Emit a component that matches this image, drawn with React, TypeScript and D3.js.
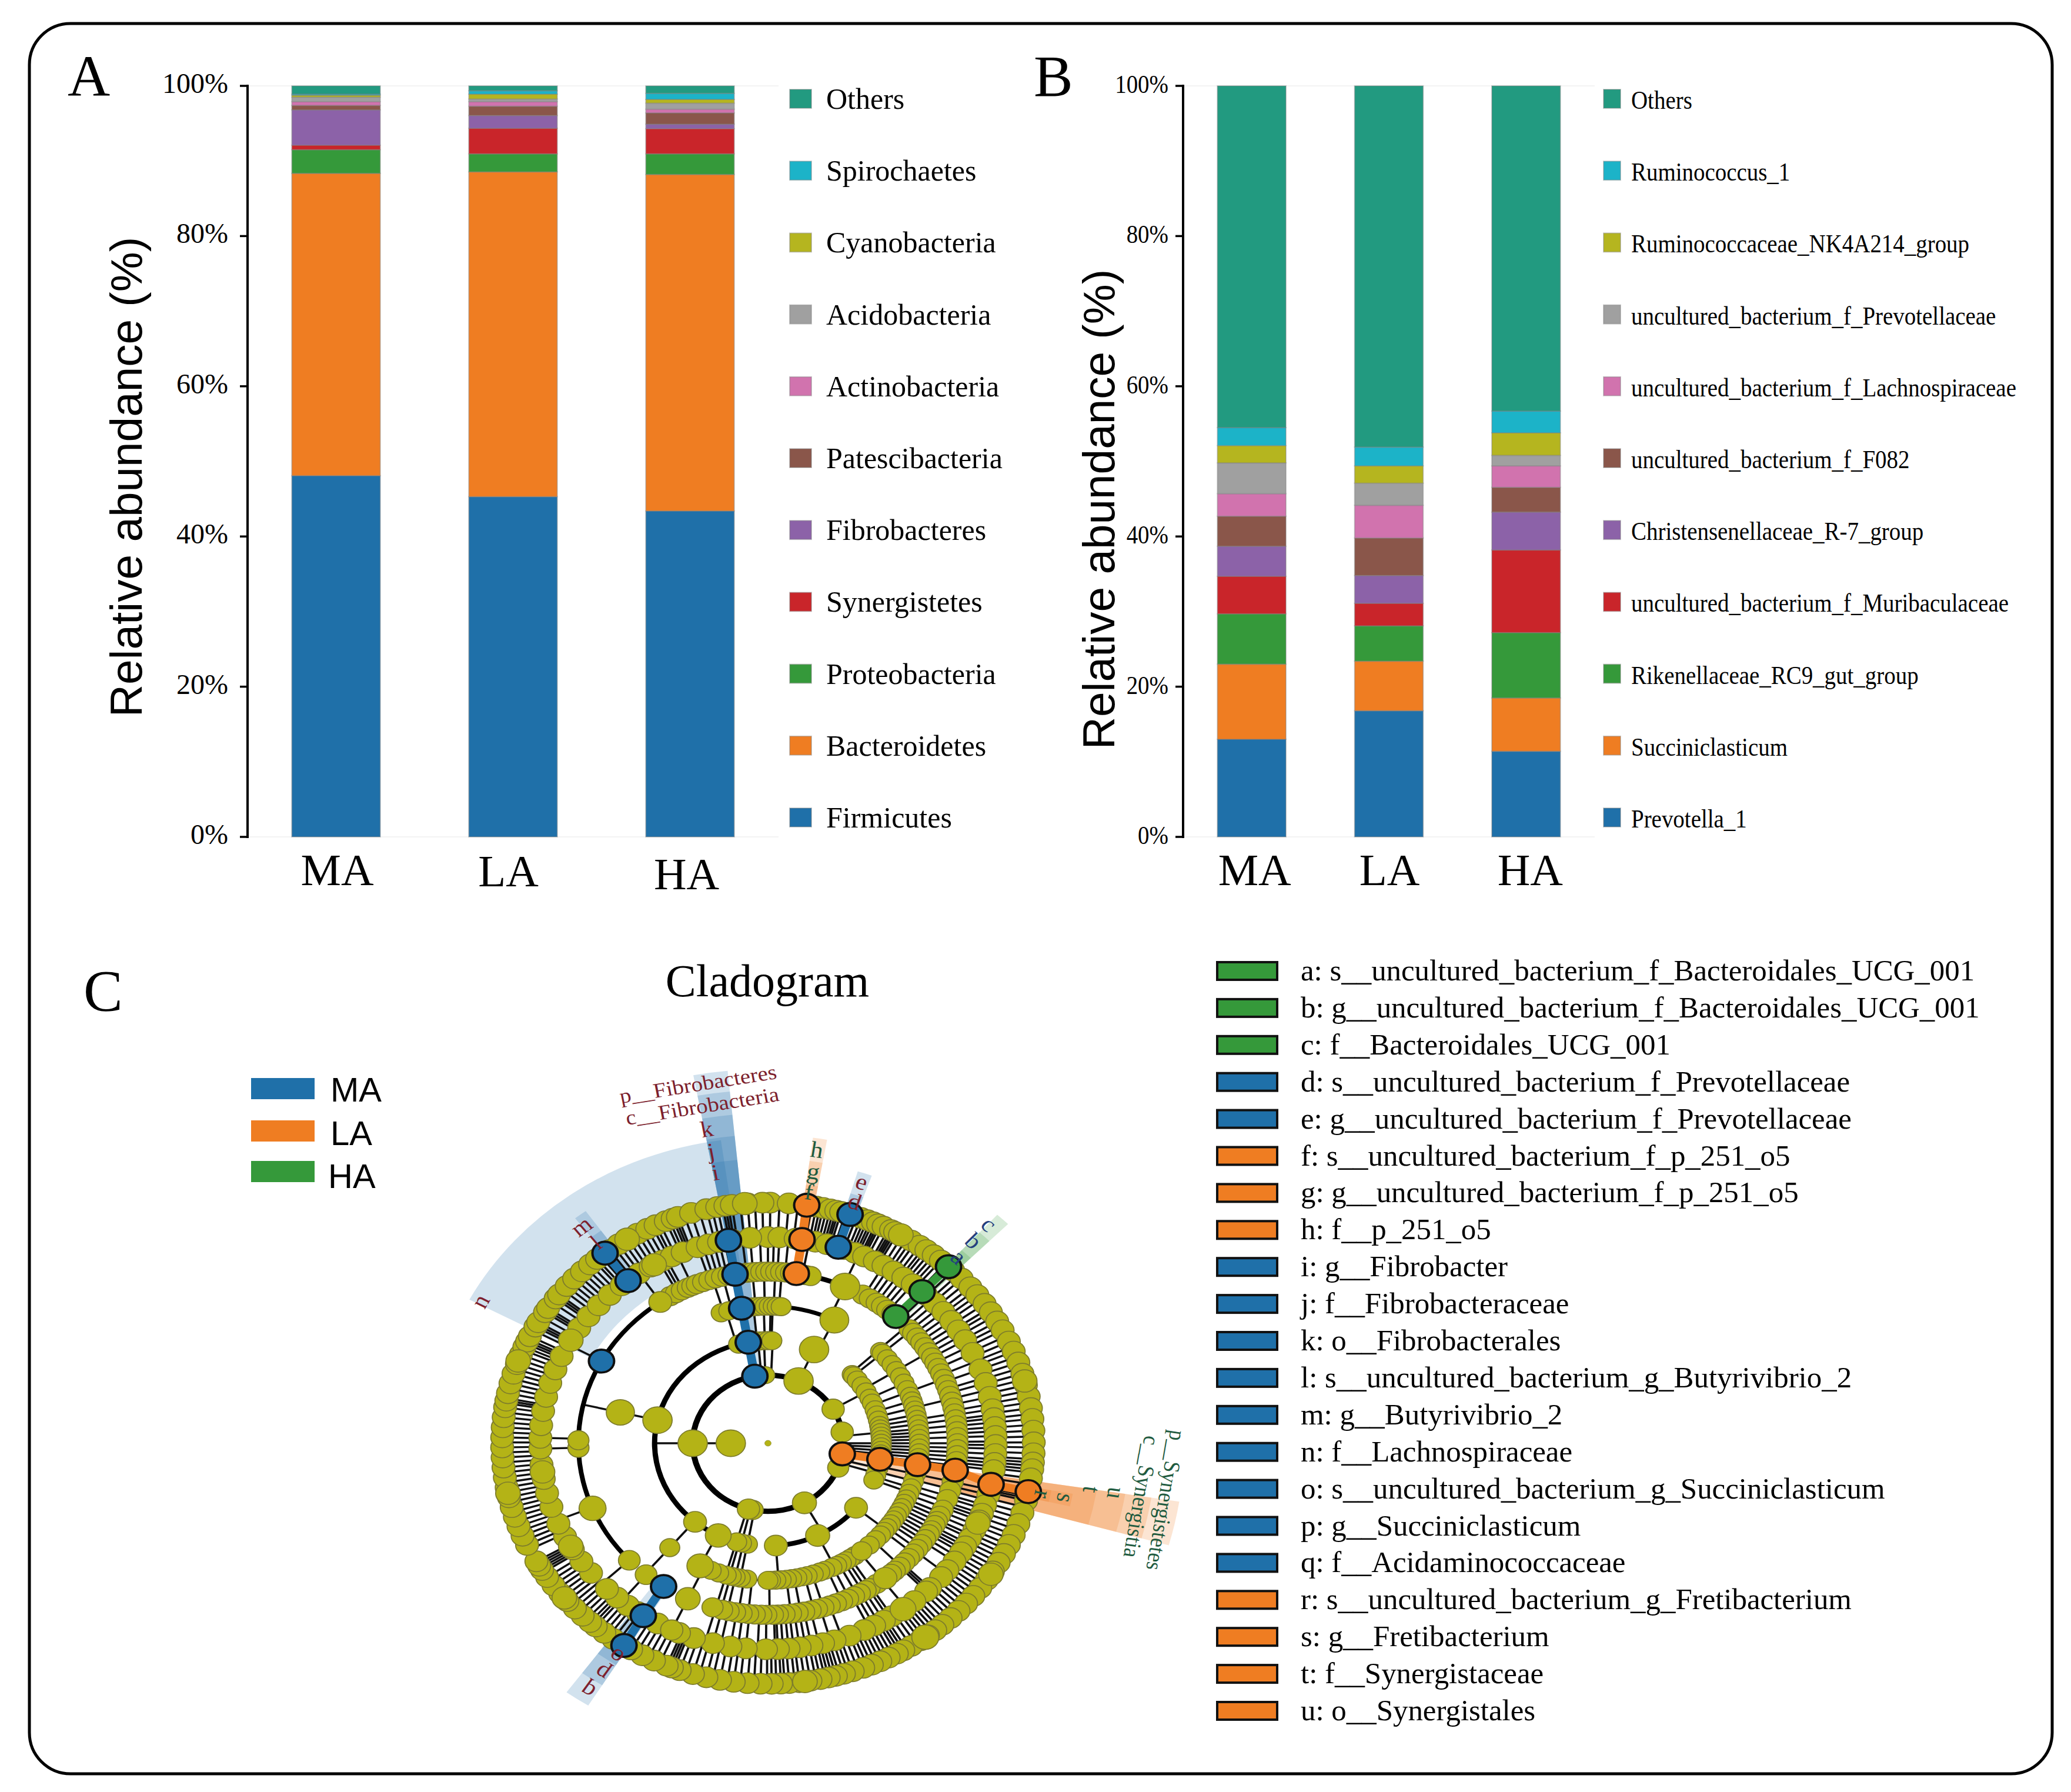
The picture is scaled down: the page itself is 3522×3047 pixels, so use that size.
import * as d3 from 'd3';

const SERIF = "'Liberation Serif', serif";
const SANS = "'Liberation Sans', sans-serif";

const groups = ['MA', 'LA', 'HA'];
const barColors = ['#1f70a9', '#ef7d22', '#35993a', '#c9252a', '#8c62a8', '#8a564a', '#d173ae', '#a0a0a0', '#b5b51f', '#1cb3c8', '#229a80'];

// panel A, bottom to top
const phylumNames = ['Firmicutes', 'Bacteroidetes', 'Proteobacteria', 'Synergistetes', 'Fibrobacteres', 'Patescibacteria', 'Actinobacteria', 'Acidobacteria', 'Cyanobacteria', 'Spirochaetes', 'Others'];
const phylumMA = [48.1, 40.25, 3.15, 0.6, 4.7, 0.6, 0.5, 0.6, 0.25, 0.15, 1.1];
const phylumLA = [45.3, 43.25, 2.4, 3.4, 1.7, 1.25, 0.6, 0.35, 0.65, 0.45, 0.65];
const phylumHA = [43.4, 44.8, 2.75, 3.35, 0.6, 1.5, 0.5, 0.8, 0.5, 0.8, 1.0];

// panel B, bottom to top
const genusNames = ['Prevotella_1', 'Succiniclasticum', 'Rikenellaceae_RC9_gut_group', 'uncultured_bacterium_f_Muribaculaceae', 'Christensenellaceae_R-7_group', 'uncultured_bacterium_f_F082', 'uncultured_bacterium_f_Lachnospiraceae', 'uncultured_bacterium_f_Prevotellaceae', 'Ruminococcaceae_NK4A214_group', 'Ruminococcus_1', 'Others'];
const genusMA = [13, 10, 6.7, 5, 4, 4, 3, 4.1, 2.3, 2.4, 45.5];
const genusLA = [16.8, 6.6, 4.7, 3, 3.7, 5, 4.35, 2.95, 2.3, 2.5, 48.1];
const genusHA = [11.4, 7.1, 8.7, 11, 5.05, 3.3, 2.85, 1.4, 3, 2.9, 43.3];

const yTicks = [0, 20, 40, 60, 80, 100];

// panel C legend
const cladeNames = [
  'a: s__uncultured_bacterium_f_Bacteroidales_UCG_001', 'b: g__uncultured_bacterium_f_Bacteroidales_UCG_001', 'c: f__Bacteroidales_UCG_001',
  'd: s__uncultured_bacterium_f_Prevotellaceae', 'e: g__uncultured_bacterium_f_Prevotellaceae', 'f: s__uncultured_bacterium_f_p_251_o5',
  'g: g__uncultured_bacterium_f_p_251_o5', 'h: f__p_251_o5', 'i: g__Fibrobacter', 'j: f__Fibrobacteraceae', 'k: o__Fibrobacterales',
  'l: s__uncultured_bacterium_g_Butyrivibrio_2', 'm: g__Butyrivibrio_2', 'n: f__Lachnospiraceae', 'o: s__uncultured_bacterium_g_Succiniclasticum',
  'p: g__Succiniclasticum', 'q: f__Acidaminococcaceae', 'r: s__uncultured_bacterium_g_Fretibacterium', 's: g__Fretibacterium', 't: f__Synergistaceae', 'u: o__Synergistales',
];
const cladeGroups = ['HA', 'HA', 'HA', 'MA', 'MA', 'LA', 'LA', 'LA', 'MA', 'MA', 'MA', 'MA', 'MA', 'MA', 'MA', 'MA', 'MA', 'LA', 'LA', 'LA', 'LA'];
const groupColor: Record<string, string> = { MA: '#1f70a9', LA: '#ef7d22', HA: '#35993a' };
const labelColor: Record<string, string> = { MA: '#7d1f2d', LA: '#1f5b3f', HA: '#24407e' };

// cladogram: angles in degrees, clockwise from north
const level6Angles = [0.5, 2.5, 4.5, 6.5, 8.4, 9.5, 10.5, 11.3, 12, 12.8, 13.6, 14.3, 14.9, 15.4, 16, 17, 18, 19.5, 20.5, 21.3, 22, 22.7, 23.3, 24, 24.5, 25, 25.8, 27, 27.6, 28.1, 28.6, 29.2, 30.4, 31.6, 32.6, 33.6, 34.8, 35.8, 36.6, 37.6, 38.6, 39.6, 40.6, 41.8, 44.2, 45.6, 46.8, 48.2, 49.6, 50.8, 52, 53.2, 54.6, 56, 57, 58.2, 59.6, 60.8, 62, 63.6, 65, 66.4, 67.6, 69, 70.4, 71.8, 73.2, 74.6, 76, 77.4, 78.8, 80.2, 81.6, 83, 84.2, 85.6, 87, 88.4, 89.8, 91, 92.4, 93.8, 94.6, 95.4, 96.2, 97, 98.4, 99.8, 102.6, 103.2, 103.8, 105.4, 106.8, 108.2, 109.6, 111, 112.4, 113.6, 115, 116.2, 117.4, 118.6, 119.8, 121, 122.2, 123.4, 124.6, 125.8, 127, 128.2, 129.4, 130.6, 131.8, 133, 134.2, 135.4, 136.6, 137.8, 139, 140, 141, 142, 143, 144, 145, 146.2, 147.4, 148.6, 149.4, 150.2, 151, 152, 153, 154, 155, 156, 157, 158, 159, 160.2, 161.4, 162.4, 163.4, 164.4, 165.2, 166, 166.8, 167.6, 168.6, 169.6, 170.8, 172, 173.2, 174.2, 175.4, 176.4, 177.2, 178.2, 179.2, 180.2, 181.6, 183, 184.4, 186, 187.4, 188.8, 190.4, 192, 193.4, 195, 196.4, 198, 199.4, 200.6, 201.2, 201.8, 202.4, 204, 205.4, 206.8, 208.2, 209.6, 211, 214.4, 215.6, 216.8, 218, 219.2, 220.4, 221.2, 222, 223, 224.2, 225.4, 226.6, 227.8, 229, 230.2, 231.4, 232.6, 233.8, 235, 236.2, 237.6, 238.2, 238.8, 239.4, 240, 240.6, 243.8, 245, 246.2, 247.4, 248.6, 249.8, 251, 252.2, 253.4, 254.6, 255.8, 257, 258.2, 259.4, 260.6, 261.8, 263, 264.2, 265.4, 266.6, 267.8, 269, 270.2, 271.4, 272.6, 273.8, 275, 276.2, 277.4, 278.6, 279.6, 280.2, 280.8, 282, 283.2, 284.4, 285.6, 286.8, 288, 289.2, 290.4, 291.6, 292.8, 293.6, 294.4, 295, 295.6, 296.4, 298, 299, 299.6, 300.2, 301.6, 303, 303.6, 304.2, 305.8, 307, 307.6, 308.2, 309.6, 310.8, 312, 313.2, 314.4, 315.6, 316.8, 318, 319.2, 320, 321, 323.4, 324.6, 325.8, 327, 328.2, 329.4, 330.6, 331.8, 333, 334.2, 335, 336, 337.4, 338.2, 339, 339.6, 340.2, 341.6, 343.2, 345, 346.6, 347.8, 349, 350.2, 350.8, 351.4, 352.2, 354, 355.6, 357.2, 358.8];

const level5Spokes = [325.5, 331.5, 332.5, 333.5, 336.5, 342, 343.4, 344.8, 346.2, 347.6, 349, 353.5, 355.5, 358, 0, 1.5, 2.9, 5.2, 10.5, 23.5, 30.5, 32, 33.5, 35, 36.5, 38, 39.5, 44, 45.6, 47.2, 48.8, 50.4, 52, 53.6, 55.2, 56.8, 58.4, 60, 62, 64, 66.5, 69, 71.5, 73, 75, 77, 79, 80.5, 82, 83, 84.2, 85.5, 86.7, 88, 89.5, 90.5, 91.5, 93, 94.5, 95.5, 96.5, 97.5, 103, 104.5, 106, 107.5, 108.6, 110, 111, 112, 113.5, 115, 116.5, 117.5, 119, 120, 121, 122, 123.5, 125, 129, 134.6, 135.3, 136, 142.8, 147, 148, 149.4, 150.8, 152.2, 153.6, 161, 164, 167, 169, 170.5, 172, 173.5, 174.8, 176.2, 177.5, 178.2, 180.5, 182.6, 185.6, 187.6, 189.5, 192, 194, 196, 205, 220, 227, 248, 268.5, 271.5, 298.6];
const level5Extra = [7, 12, 13.5, 15, 16.5, 19.5, 21, 22.5, 25, 26.5, 28, 29, 41, 126.5, 128, 130.5, 132, 138, 140, 143.6, 145, 155, 157, 159, 163, 166, 199, 201, 203, 207, 209, 211, 215, 216.5, 218, 221.5, 223, 225, 229, 231, 233, 235, 237, 239, 241, 243, 245, 247, 250, 252, 254, 256, 258, 260, 262, 264, 266, 270, 273, 275, 277, 279, 281, 283, 285, 287, 289, 291, 293, 295, 297, 300, 302, 304, 306, 308, 310, 312, 314, 316, 318, 320, 323.5, 327, 329, 335, 338, 340, 351];

const level4Nodes = [329, 331, 333, 335, 336.5, 338, 340, 342, 344, 346, 348, 352, 353.5, 355, 356.5, 358, 359.5, 1, 2.5, 4, 5.5, 7, 10, 11.5, 13, 30, 32.5, 35, 37, 39, 41, 48.4, 50, 52, 54, 56, 58, 60, 62, 64, 66, 68, 70, 72, 74, 76, 78, 80, 82, 84, 86, 88, 90, 92, 94, 96, 103, 106, 109, 112.8, 115, 117, 118.5, 120.5, 122, 124, 126, 128, 130, 132, 134, 136, 138, 139.5, 145, 147.6, 149, 151, 153, 155, 157, 159, 161, 163, 165, 167, 169, 171, 173, 175, 177, 178.5, 180.5, 182, 184, 186, 188, 190, 192, 194, 197, 220, 268.5, 271];
const level4Spokes = [283, 343, 346.2, 355.3, 358.8, 2.2, 4.2, 24, 47, 49, 58, 68, 75, 80, 82, 84, 86, 88, 90, 91.5, 93, 94.5, 96, 97.5, 103, 105.5, 108, 110, 112, 114, 115.5, 117, 118.5, 120, 121.5, 123, 124.5, 126, 128, 130, 135.7, 142.7, 147, 148.5, 150, 152, 154.6, 157, 163, 166, 170, 173, 179.5, 186, 189, 192.4, 194.3, 196, 205, 220.4];

const level3Nodes = [342, 345, 352, 353, 354.5, 356, 357.5, 359, 0.5, 2, 3.5, 5, 48, 49, 52, 55, 58, 61, 64, 67, 70, 72, 74, 76, 78, 80, 82, 84, 86, 88, 90, 92, 94, 96, 103, 106, 109, 111.5, 114, 116, 118, 120, 122, 124, 126, 128, 130, 132, 134.7, 138, 145, 147, 149, 151, 153, 155, 158, 160, 162.6, 165, 167, 169, 171, 173, 175, 177, 179, 180, 188, 190.5, 192.5, 194, 196, 199, 202, 220.4];
const level3Spokes = [283, 344, 354.5, 358.4, 1, 1.8, 26, 47, 49, 58, 64, 68, 72, 75, 78, 80, 82, 84, 85.5, 87, 88.5, 90, 91.5, 93, 94.5, 96, 97.5, 103, 106, 109, 111, 129, 154, 176, 190.5, 192.5, 194.7, 196.2, 206.6, 220.4];

const level2Nodes = [345, 352, 354, 356, 358, 0, 2, 48, 49, 52, 56, 60, 64, 67, 71, 74, 77, 80, 82, 84, 86, 88, 90, 92, 94, 96, 104, 108, 111, 190.4, 193.5, 196];
const level2Spokes = [270, 355, 358, 2.4, 24, 60, 84, 90, 92, 94, 96, 97.5, 100, 104, 107, 151, 190.4, 193.5, 196];

// larger nodes: [level, angle, size]
const largeNodes = [
  [0, 270, 25], [1, 270, 25], [1, 358, 16], [1, 24, 25], [1, 60, 19], [1, 80.6, 19], [1, 111, 18], [1, 151, 20.5], [1, 191.7, 18], [1, 195, 19],
  [2, 283, 25], [2, 24, 25], [2, 129, 19.5], [2, 154, 20.5], [2, 176, 19.5], [2, 206, 22], [2, 220, 19.5],
  [3, 283, 24], [3, 26, 24.5], [3, 141.8, 17.5], [3, 206.6, 22.5],
  [4, 24, 25], [4, 247.7, 23], [4, 227, 18.5], [4, 205, 21], [4, 325.4, 19.5], [4, 141.8, 20], [4, 220, 18.5],
  [5, 143.6, 22], [5, 112.8, 21], [5, 300, 21], [5, 240, 21], [5, 330, 21], [5, 262, 21], [5, 205, 19],
  [6, 143.7, 23], [6, 172, 21], [6, 290, 21], [6, 230, 21], [6, 30, 21], [6, 328, 21], [6, 258, 21], [6, 75, 21], [6, 123, 21], [6, 355, 21],
];

// thick arcs: [level, from, to, weight]
const arcSegments = [
  [1, 0, 360, 10], [2, 206, 348, 9], [2, 129, 176, 9], [2, 48, 111, 4],
  [3, 5, 26, 8], [3, 48, 188, 4], [4, 13, 32.5, 9], [4, 226, 325.4, 8],
];

// significant clades: letter, group, level, node angle, wedge centre, half width, wedge outer radius
const cladeMarks: [string, string, number, number, number, number, number][] = [
  ['a', 'HA', 6, 42.8, 43.5, 1.25, 490], ['b', 'HA', 5, 42.6, 43.5, 1.25, 535], ['c', 'HA', 4, 42.4, 43.5, 1.25, 580],
  ['d', 'MA', 6, 18, 18, 1.35, 490], ['e', 'MA', 5, 18, 18, 1.35, 533],
  ['f', 'LA', 6, 8.4, 8.8, 1.2, 490], ['g', 'LA', 5, 8.6, 8.8, 1.2, 535], ['h', 'LA', 4, 8.6, 8.8, 1.2, 579],
  ['i', 'MA', 5, 350, 352, 2.4, 535], ['j', 'MA', 4, 350, 352, 2.4, 580], ['k', 'MA', 3, 350, 352, 2.4, 620],
  ['c__Fibrobacteria', 'MA', 2, 350, 352, 2.4, 664], ['p__Fibrobacteres', 'MA', 1, 350, 352, 2.4, 703],
  ['l', 'MA', 6, 322.2, 323.4, 1.2, 490], ['m', 'MA', 5, 322.1, 323.4, 1.2, 535],
  ['n', 'MA', 4, 298.6, 325, 27, 575],
  ['o', 'MA', 6, 212.8, 214, 2.2, 490], ['p', 'MA', 5, 213.2, 214, 2.2, 535], ['q', 'MA', 4, 213.4, 214, 2.2, 580],
  ['r', 'LA', 6, 101.6, 101.7, 1.3, 490], ['s', 'LA', 5, 101.5, 101.7, 1.3, 527], ['t', 'LA', 4, 99, 102.3, 3.4, 566],
  ['u', 'LA', 3, 99, 102.3, 3.4, 615], ['c__Synergistia', 'LA', 2, 99, 102.3, 3.4, 660], ['p__Synergistetes', 'LA', 1, 99, 102.3, 3.4, 708],
];
const cladeChains = [
  ['a', 'b', 'c'], ['d', 'e'], ['f', 'g', 'h'], ['i', 'j', 'k', 'c__Fibrobacteria', 'p__Fibrobacteres'], ['l', 'm'], ['o', 'p', 'q'],
  ['r', 's', 't', 'u', 'c__Synergistia', 'p__Synergistetes'],
];

const yScale = d3.scaleLinear().domain([0, 100]).range([1423, 146]);
const rowScale = d3.scaleLinear().domain([0, 10]).range([1390, 168]);
const ringScale = d3.scaleLinear().domain([0, 6]).range([63.2, 452]);
const labelRadius = d3.scaleOrdinal<number, number>().domain([6, 5, 4, 3, 2, 1]).range([476, 515, 556, 598, 642, 684]);
const rad = (a: number) => (a * Math.PI) / 180;
const polar = (level: number, a: number) => d3.pointRadial(rad(a), ringScale(level));
const arcGen = d3.arc();
const everyOther = (list: number[]) => list.filter((_, i) => i % 2 === 0);

function Spokes({ level, angles }: { level: number; angles: number[] }) {
  return (
    <g stroke="#101010" strokeWidth={3.8}>
      {angles.map((a, i) => {
        const [x0, y0] = polar(level - 1, a);
        const [x1, y1] = polar(level, a);
        return <line key={i} x1={x0} y1={y0} x2={x1} y2={y1} />;
      })}
    </g>
  );
}

function Nodes({ level, angles, size }: { level: number; angles: number[]; size: number }) {
  return (
    <g fill="#b4b316" stroke="#7d7c2c" strokeWidth={1.8}>
      {angles.map((a, i) => {
        const [x, y] = polar(level, a);
        return <circle key={i} cx={x} cy={y} r={size} />;
      })}
    </g>
  );
}

function StackedBars({ names, rows, x0, x1, letter, letterX, titleX, titleY, nudges, condensed, swatchX, swatchW, textX, textSize, tickEnd, tickSize }: any) {
  const x = d3.scaleBand().domain(groups).range([x0, x1]).paddingInner(0.5).paddingOuter(0.25);
  const table = groups.map((g, i) => Object.fromEntries(names.map((n: string, j: number) => [n, rows[i][j]])));
  const stacked = d3.stack().keys(names)(table as any);
  const sx = condensed ? 0.885 : 1;
  return (
    <g>
      <line x1={x0} x2={x1} y1={yScale(100)} y2={yScale(100)} stroke="#f3f3f3" strokeWidth={2} />
      <line x1={x0} x2={x1} y1={yScale(0)} y2={yScale(0)} stroke="#f3f3f3" strokeWidth={2} />
      {stacked.map((s, i) => (
        <g key={i} fill={barColors[i]} stroke="#808080" strokeOpacity={0.4} strokeWidth={2}>
          {s.map((d, j) => (
            <rect key={j} x={x(groups[j])} width={x.bandwidth()} y={yScale(d[1])} height={yScale(d[0]) - yScale(d[1])} />
          ))}
        </g>
      ))}
      <line x1={x0} x2={x0} y1={yScale(100) - 2} y2={yScale(0) + 2} stroke="#000" strokeWidth={4} />
      {yTicks.map((t) => (
        <g key={t}>
          <line x1={x0 - 13} x2={x0} y1={yScale(t)} y2={yScale(t)} stroke="#000" strokeWidth={3.5} />
          <text transform={`translate(${tickEnd},${yScale(t) + 12}) scale(${sx},1)`} textAnchor="end" fontFamily={SERIF} fontSize={tickSize}>{t}%</text>
        </g>
      ))}
      <text transform={`translate(${titleX},${titleY}) rotate(-90)`} textAnchor="middle" fontFamily={SANS} fontSize={76.5} dy="0.35em">Relative abundance (%)</text>
      {groups.map((g, i) => (
        <text key={g} x={x(g)! + x.bandwidth() / 2 + nudges[i][0]} y={nudges[i][1]} textAnchor="middle" fontFamily={SERIF} fontSize={77}>{g}</text>
      ))}
      {names.map((n: string, i: number) => (
        <g key={n}>
          <rect x={swatchX} y={rowScale(i) - 16} width={swatchW} height={32} fill={barColors[i]} stroke="#808080" strokeOpacity={0.4} strokeWidth={2} />
          <text transform={`translate(${textX},${rowScale(i) + 17}) scale(${sx},1)`} fontFamily={SERIF} fontSize={textSize}>{n}</text>
        </g>
      ))}
      <text x={letterX} y={163} fontFamily={SERIF} fontSize={100}>{letter}</text>
    </g>
  );
}

function Cladogram() {
  const byName = new Map(cladeMarks.map((m) => [m[0], m]));
  return (
    <g transform="translate(1306,2454) scale(1,0.905)">
      {/* wedges go under everything, longest first */}
      {[...cladeMarks].sort((a, b) => b[6] - a[6]).map((m) => (
        <path
          key={m[0]}
          fill={groupColor[m[1]]}
          fillOpacity={0.2}
          d={arcGen({
            innerRadius: m[0] === 'n' ? 340 : ringScale(m[2]),
            outerRadius: m[6],
            startAngle: rad(m[4] - m[5]),
            endAngle: rad(m[4] + m[5]),
          } as any)!}
        />
      ))}
      <Spokes level={6} angles={level6Angles} />
      <Spokes level={5} angles={level5Spokes} />
      <Spokes level={4} angles={level4Spokes} />
      <Spokes level={3} angles={level3Spokes} />
      <Spokes level={2} angles={level2Spokes} />
      <Spokes level={1} angles={[270]} />
      {arcSegments.map((s, i) => (
        <path
          key={i}
          fill="#000"
          d={arcGen({
            innerRadius: ringScale(s[0]) - s[3] / 2,
            outerRadius: ringScale(s[0]) + s[3] / 2,
            startAngle: rad(s[1]),
            endAngle: rad(s[2]),
          } as any)!}
        />
      ))}
      {cladeChains.map((chain, c) =>
        chain.slice(1).map((name, i) => {
          const a = byName.get(chain[i])!;
          const b = byName.get(name)!;
          const [x0, y0] = polar(a[2], a[3]);
          const [x1, y1] = polar(b[2], b[3]);
          return <line key={`${c}-${i}`} x1={x0} y1={y0} x2={x1} y2={y1} stroke={groupColor[a[1]]} strokeWidth={15} />;
        })
      )}
      <Nodes level={2} angles={level2Nodes} size={17} />
      <Nodes level={3} angles={level3Nodes} size={17} />
      <Nodes level={4} angles={level4Nodes} size={18} />
      <Nodes level={5} angles={everyOther([...level5Spokes.filter((a) => a < 298 || a > 299).filter((a) => a !== 248 && a !== 227 && a !== 205), ...level5Extra].sort((a, b) => a - b))} size={19.5} />
      <Nodes level={6} angles={everyOther(level6Angles)} size={19.5} />
      <g fill="#b4b316" stroke="#7d7c2c" strokeWidth={1.8}>
        {largeNodes.map((n, i) => {
          const [x, y] = polar(n[0], n[1]);
          return <circle key={i} cx={x} cy={y} r={n[2]} />;
        })}
        <circle cx={0} cy={0} r={5.5} strokeWidth={0.6} />
      </g>
      {cladeMarks.map((m) => {
        const [x, y] = polar(m[2], m[3]);
        return <circle key={m[0]} cx={x} cy={y} r={21.5} fill={groupColor[m[1]]} stroke="#101010" strokeWidth={4} />;
      })}
      {cladeMarks.map((m) => {
        const [x, y] = d3.pointRadial(rad(m[3]), labelRadius(m[2]));
        return (
          <text key={m[0]} transform={`translate(${x},${y}) rotate(${m[3]})`} textAnchor="middle" dy="0.3em" fontFamily={SERIF} fontSize={m[0].length > 1 ? 39 : 43} fill={labelColor[m[1]]}>
            {m[0]}
          </text>
        );
      })}
    </g>
  );
}

export default function App() {
  const cladeY = d3.scaleLinear().domain([0, 20]).range([1651, 2909]);
  return (
    <svg width={3522} height={3047} style={{ position: 'absolute', left: 0, top: 0, background: '#fff' }}>
      <rect x={50} y={40} width={3440} height={2976} rx={70} fill="#fff" stroke="#000" strokeWidth={5} />
      <StackedBars
        names={phylumNames} rows={[phylumMA, phylumLA, phylumHA]} x0={421} x1={1324} letter="A" letterX={115} titleX={214} titleY={811}
        nudges={[[2, 1505], [-8, 1507], [-6, 1512]]} swatchX={1343} swatchW={37} textX={1405} textSize={50} tickEnd={388} tickSize={48}
      />
      <StackedBars
        names={genusNames} rows={[genusMA, genusLA, genusHA]} x0={2012} x1={2712} letter="B" letterX={1758} titleX={1868} titleY={866}
        nudges={[[5, 1505], [1, 1505], [7, 1505]]} condensed swatchX={2727} swatchW={29} textX={2774} textSize={44} tickEnd={1987} tickSize={44}
      />
      <text x={142} y={1718} fontFamily={SERIF} fontSize={100}>C</text>
      <text x={1305} y={1694} textAnchor="middle" fontFamily={SERIF} fontSize={78}>Cladogram</text>
      {groups.map((g, i) => (
        <g key={g}>
          <rect x={427} y={[1833, 1905, 1974][i]} width={108} height={36} fill={groupColor[g]} />
          <text x={[562, 562, 558][i]} y={[1873, 1947, 2020][i]} fontFamily={SANS} fontSize={58}>{g}</text>
        </g>
      ))}
      <Cladogram />
      {cladeNames.map((n, i) => (
        <g key={n}>
          <rect x={2070} y={cladeY(i) - 15} width={102} height={30} fill={groupColor[cladeGroups[i]]} stroke="#111" strokeWidth={4} />
          <text x={2212} y={cladeY(i) + 16} fontFamily={SERIF} fontSize={50.9}>{n}</text>
        </g>
      ))}
    </svg>
  );
}
